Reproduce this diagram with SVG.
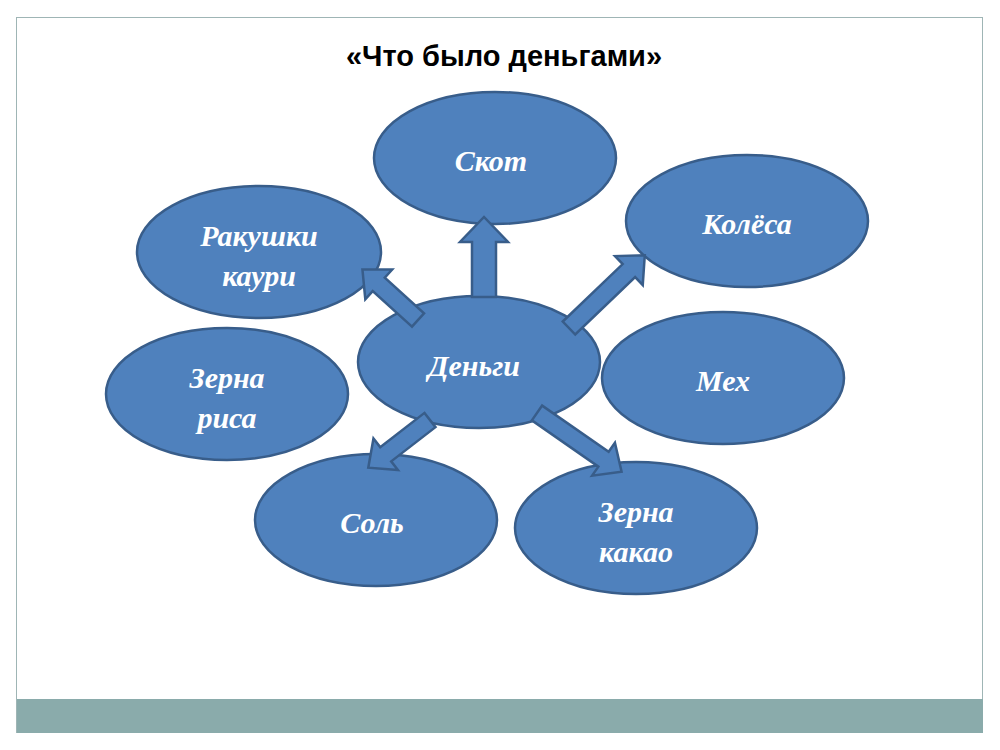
<svg xmlns="http://www.w3.org/2000/svg" width="1000" height="750" viewBox="0 0 1000 750">
<style>
.n{fill:#4f81bd;stroke:#385d8a;stroke-width:2.5}
.t{fill:#fff;font-family:"Liberation Serif",serif;font-weight:bold;font-style:italic;font-size:30px;text-anchor:middle}
.a{fill:#4f81bd;stroke:#385d8a;stroke-width:2.5;stroke-linejoin:miter}
</style>
<rect x="0" y="0" width="1000" height="750" fill="#fff"/>
<rect x="16.5" y="17.5" width="966" height="715" fill="#fff" stroke="#9fb5b5" stroke-width="1"/>
<rect x="17" y="699" width="966" height="34" fill="#8aabab"/>
<text x="504" y="66" font-family="Liberation Sans,sans-serif" font-weight="bold" font-size="29" text-anchor="middle" fill="#000">«Что было деньгами»</text>
<g id="skot"><ellipse class="n" cx="495" cy="158" rx="121" ry="66"/><text class="t" x="491" y="171">Скот</text></g>
<g id="kolesa"><ellipse class="n" cx="747" cy="221" rx="121" ry="66"/><text class="t" x="747" y="234">Колёса</text></g>
<g id="rakushki"><ellipse class="n" cx="259" cy="252" rx="122" ry="66"/><text class="t" x="259" y="246">Ракушки</text><text class="t" x="259" y="286">каури</text></g>
<g id="dengi"><ellipse class="n" cx="479" cy="362" rx="121" ry="66"/><text class="t" x="474" y="376">Деньги</text></g>
<g id="meh"><ellipse class="n" cx="723" cy="378" rx="121" ry="66"/><text class="t" x="723" y="391">Мех</text></g>
<g id="ris"><ellipse class="n" cx="227" cy="394" rx="121" ry="66"/><text class="t" x="227" y="388">Зерна</text><text class="t" x="227" y="428">риса</text></g>
<g id="sol"><ellipse class="n" cx="376" cy="520" rx="121" ry="66"/><text class="t" x="372" y="533">Соль</text></g>
<g id="kakao"><ellipse class="n" cx="636" cy="528" rx="121" ry="66"/><text class="t" x="636" y="522">Зерна</text><text class="t" x="636" y="562">какао</text></g>
<g id="connectors">
<polygon class="a" transform="translate(484,297) rotate(-90)" points="0,-12 55,-12 55,-24 80,0 55,24 55,12 0,12"/>
<polygon class="a" transform="translate(418,320) rotate(-137.8)" points="0,-9 53,-9 53,-20 75,0 53,20 53,9 0,9"/>
<polygon class="a" transform="translate(569,328) rotate(-43.8)" points="0,-9 83,-9 83,-20 105,0 83,20 83,9 0,9"/>
<polygon class="a" transform="translate(430,420) rotate(142.3)" points="0,-9 56,-9 56,-20 78,0 56,20 56,9 0,9"/>
<polygon class="a" transform="translate(537,413) rotate(34.8)" points="0,-9 81,-9 81,-20 103,0 81,20 81,9 0,9"/>
</g>
</svg>
